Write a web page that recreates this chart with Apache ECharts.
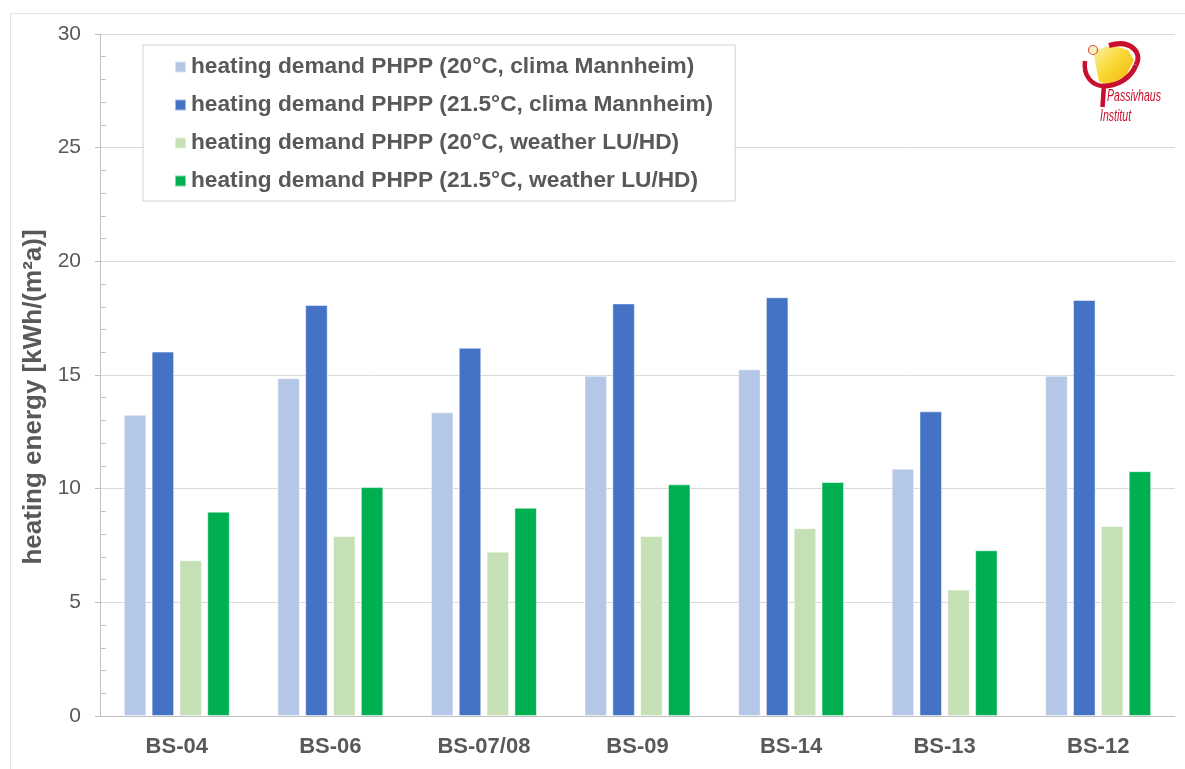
<!DOCTYPE html>
<html>
<head>
<meta charset="utf-8">
<script src="https://cdn.jsdelivr.net/npm/echarts@6/dist/echarts.min.js"></script>
<style>
html,body{margin:0;padding:0;background:#fff;}
#main{width:1185px;height:769px;}
</style>
</head>
<body>
<div id="main"></div>
<script>
const categories = ['BS-04', 'BS-06', 'BS-07/08', 'BS-09', 'BS-14', 'BS-13', 'BS-12'];
const seriesNames = [
  'heating demand PHPP (20°C, clima Mannheim)',
  'heating demand PHPP (21.5°C, clima Mannheim)',
  'heating demand PHPP (20°C, weather LU/HD)',
  'heating demand PHPP (21.5°C, weather LU/HD)'
];
const mannheim20 = [13.25, 14.86, 13.36, 14.97, 15.25, 10.88, 14.97];
const mannheim215 = [16.03, 18.08, 16.2, 18.15, 18.42, 13.4, 18.3];
const luhd20 = [6.85, 7.92, 7.23, 7.92, 8.26, 5.56, 8.36];
const luhd215 = [8.99, 10.07, 9.16, 10.19, 10.29, 7.29, 10.77];
const colors = ['#b4c7e7', '#4472c4', '#c5e0b4', '#00b050'];
const yTicks = { min: 0, max: 30, interval: 5 };
const yAxisTitle = 'heating energy [kWh/(m²a)]';

const dataSets = [mannheim20, mannheim215, luhd20, luhd215];
const textColor = '#595959';
const chart = echarts.init(document.getElementById('main'), null, { renderer: 'canvas' });

const red = '#c8102e';
const logoFont = 'italic 16px Liberation Sans, Arial, sans-serif';
const fanFill = new echarts.graphic.LinearGradient(0, 0, 1, 1, [
  { offset: 0, color: '#fdf3b8' },
  { offset: 0.45, color: '#f9d93a' },
  { offset: 1, color: '#f2b705' }
]);
chart.setOption({
  animation: false,
  backgroundColor: '#fff',
  textStyle: { fontFamily: 'Liberation Sans, Arial, sans-serif' },
  grid: { left: 100, right: 10, top: 34, bottom: 53, containLabel: false },
  legend: {
    orient: 'vertical',
    left: 143, top: 45,
    padding: [9, 22, 7, 31],
    itemGap: 12,
    itemWidth: 11, itemHeight: 11,
    itemTextGap: 4,
    icon: 'rect',
    backgroundColor: '#fff',
    borderColor: '#d0d0d0', borderWidth: 1,
    textStyle: { color: textColor, fontSize: 22.7, fontWeight: 'bold', lineHeight: 26, fontFamily: 'Liberation Sans, Arial, sans-serif' },
    data: seriesNames
  },
  xAxis: {
    type: 'category',
    data: categories,
    axisLine: { lineStyle: { color: '#bfbfbf', width: 1 } },
    axisTick: { show: false },
    axisLabel: { color: textColor, fontSize: 22, fontWeight: 'bold', margin: 20 }
  },
  yAxis: [{
    type: 'value',
    min: yTicks.min, max: yTicks.max, interval: yTicks.interval,
    name: yAxisTitle,
    nameLocation: 'middle',
    nameGap: 53,
    nameRotate: 90,
    nameTextStyle: { color: textColor, fontSize: 26, fontWeight: 'bold', padding: [0, 44, 0, 0] },
    axisLine: { show: true, lineStyle: { color: '#bfbfbf' } },
    axisTick: { show: true, length: 5, lineStyle: { color: '#bfbfbf' } },
    axisLabel: { color: textColor, fontSize: 21, margin: 19 },
    splitLine: { show: true, lineStyle: { color: '#d9d9d9', width: 1 } }
  }, {
    type: 'value',
    position: 'left',
    offset: 0,
    min: yTicks.min, max: yTicks.max, interval: yTicks.interval,
    axisLine: { show: false },
    axisTick: { show: false, inside: true },
    minorTick: { show: true, splitNumber: 5, length: 6, lineStyle: { color: '#bfbfbf' } },
    axisLabel: { show: false },
    splitLine: { show: false }
  }],
  series: dataSets.map((d, i) => ({
    name: seriesNames[i],
    type: 'bar',
    data: d,
    barGap: '23.5%',
    barCategoryGap: '31%',
    itemStyle: { color: colors[i], borderColor: 'rgba(255,255,255,0.5)', borderWidth: 1 }
  })),
  graphic: [
    { type: 'rect', shape: { x: 10.5, y: 13.5, width: 1200, height: 800 }, style: { fill: 'none', stroke: '#e3e3e3', lineWidth: 1 }, z: -10, silent: true },
    { type: 'polygon', shape: { points: [[1093, 51], [1112, 45], [1128, 50], [1134, 60], [1126, 76], [1110, 84], [1099, 82]] }, style: { fill: fanFill }, z: 100 },
    { type: 'bezierCurve', shape: { x1: 1109, y1: 45.5, cpx1: 1130, cpy1: 39, cpx2: 1143, cpy2: 52, x2: 1136, y2: 65 }, style: { fill: 'none', stroke: red, lineWidth: 5 }, z: 102 },
    { type: 'bezierCurve', shape: { x1: 1136, y1: 65, cpx1: 1131, cpy1: 78, cpx2: 1118, cpy2: 86, x2: 1103, y2: 86 }, style: { fill: 'none', stroke: red, lineWidth: 5 }, z: 102 },
    { type: 'bezierCurve', shape: { x1: 1085, y1: 61, cpx1: 1083, cpy1: 76, cpx2: 1092, cpy2: 86, x2: 1104, y2: 86 }, style: { fill: 'none', stroke: red, lineWidth: 4.5 }, z: 102 },
    { type: 'line', shape: { x1: 1104, y1: 85, x2: 1102.5, y2: 107 }, style: { stroke: red, lineWidth: 4.5 }, z: 102 },
    { type: 'circle', shape: { cx: 1093, cy: 50, r: 4.5 }, style: { fill: '#fdf0c0', stroke: '#d9534f', lineWidth: 1.2 }, z: 103 },
    { type: 'text', x: 1107, y: 89, scaleX: 0.66, style: { text: 'Passivhaus', fill: red, font: logoFont, verticalAlign: 'top' }, z: 104 },
    { type: 'text', x: 1100, y: 109, scaleX: 0.66, style: { text: 'Institut', fill: red, font: logoFont, verticalAlign: 'top' }, z: 104 }
  ]
});
</script>
</body>
</html>
